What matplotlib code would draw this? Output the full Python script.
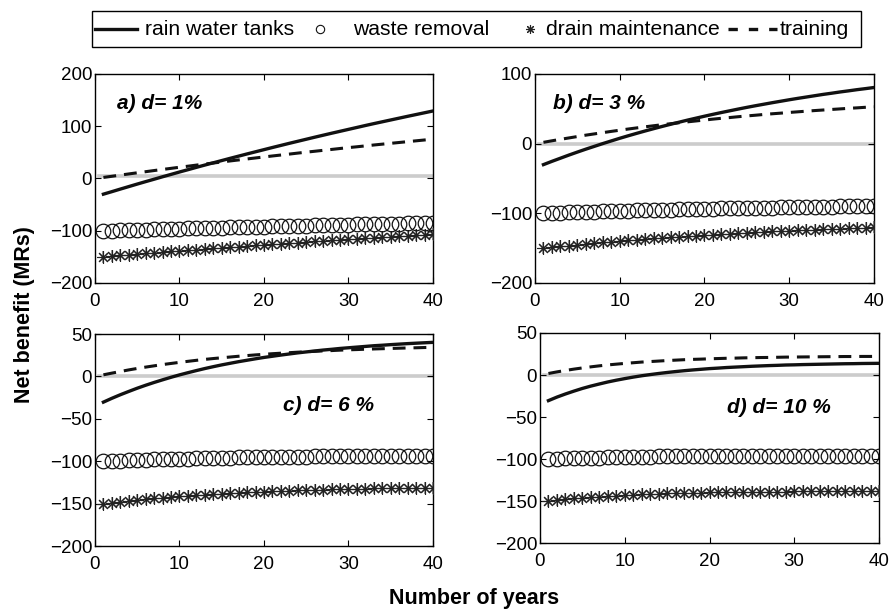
import matplotlib
matplotlib.use("Agg")
import matplotlib.pyplot as plt
from matplotlib.lines import Line2D
from matplotlib.patches import Rectangle

plt.rcParams['font.family'] = ['Liberation Sans', 'DejaVu Sans']

years = list(range(1, 41))

panel_labels = ["a) d= 1%", "b) d= 3 %", "c) d= 6 %", "d) d= 10 %"]

rain_a = [-30.0, -25.2, -20.3, -15.5, -10.7, -6.0, -1.4, 3.3, 7.8, 12.4,
          16.8, 21.3, 25.7, 30.0, 34.3, 38.6, 42.8, 47.0, 51.1, 55.2,
          59.3, 63.3, 67.3, 71.2, 75.1, 79.0, 82.8, 86.6, 90.3, 94.0,
          97.7, 101.4, 105.0, 108.5, 112.0, 115.5, 119.0, 122.4, 125.8, 129.2]
train_a = [2.0, 4.2, 6.5, 8.7, 10.9, 13.0, 15.2, 17.3, 19.4, 21.5,
           23.5, 25.6, 27.6, 29.6, 31.6, 33.6, 35.5, 37.4, 39.3, 41.2,
           43.1, 44.9, 46.7, 48.6, 50.4, 52.1, 53.9, 55.6, 57.4, 59.1,
           60.7, 62.4, 64.1, 65.7, 67.3, 68.9, 70.5, 72.1, 73.7, 75.2]
waste_a = [-100.0, -99.6, -99.1, -98.7, -98.2, -97.8, -97.3, -96.9, -96.5, -96.0,
           -95.6, -95.2, -94.8, -94.4, -94.0, -93.6, -93.2, -92.8, -92.4, -92.0,
           -91.6, -91.3, -90.9, -90.5, -90.2, -89.8, -89.4, -89.1, -88.7, -88.4,
           -88.0, -87.7, -87.3, -87.0, -86.7, -86.3, -86.0, -85.7, -85.4, -85.1]
drain_a = [-150.0, -148.6, -147.3, -146.0, -144.7, -143.5, -142.2, -141.0, -139.7, -138.5,
           -137.3, -136.1, -134.9, -133.7, -132.6, -131.4, -130.3, -129.2, -128.0, -126.9,
           -125.8, -124.8, -123.7, -122.6, -121.6, -120.5, -119.5, -118.5, -117.5, -116.5,
           -115.5, -114.5, -113.5, -112.6, -111.6, -110.7, -109.7, -108.8, -107.9, -107.0]

rain_b = [-30.1, -25.4, -20.9, -16.4, -12.1, -7.9, -3.9, 0.1, 3.9, 7.7,
          11.3, 14.8, 18.2, 21.5, 24.7, 27.8, 30.8, 33.8, 36.6, 39.4,
          42.1, 44.7, 47.2, 49.7, 52.1, 54.4, 56.6, 58.8, 60.9, 63.0,
          65.0, 66.9, 68.8, 70.7, 72.4, 74.2, 75.8, 77.5, 79.0, 80.6]
train_b = [1.9, 4.1, 6.2, 8.2, 10.2, 12.2, 14.0, 15.8, 17.6, 19.3,
           21.0, 22.6, 24.2, 25.7, 27.2, 28.6, 30.0, 31.3, 32.6, 33.9,
           35.2, 36.4, 37.5, 38.7, 39.8, 40.8, 41.9, 42.9, 43.8, 44.8,
           45.7, 46.6, 47.5, 48.3, 49.1, 49.9, 50.7, 51.4, 52.2, 52.9]
waste_b = [-100.0, -99.6, -99.2, -98.8, -98.4, -98.0, -97.6, -97.2, -96.8, -96.5,
           -96.2, -95.8, -95.5, -95.2, -94.9, -94.6, -94.3, -94.0, -93.8, -93.5,
           -93.3, -93.0, -92.8, -92.5, -92.3, -92.1, -91.9, -91.7, -91.5, -91.3,
           -91.1, -90.9, -90.7, -90.6, -90.4, -90.2, -90.1, -89.9, -89.8, -89.6]
drain_b = [-150.0, -148.7, -147.5, -146.3, -145.1, -144.0, -142.9, -141.8, -140.8, -139.8,
           -138.8, -137.9, -136.9, -136.1, -135.2, -134.3, -133.5, -132.7, -131.9, -131.2,
           -130.5, -129.8, -129.1, -128.4, -127.8, -127.2, -126.6, -126.0, -125.4, -124.8,
           -124.3, -123.8, -123.3, -122.8, -122.3, -121.8, -121.4, -120.9, -120.5, -120.1]

rain_c = [-30.3, -25.8, -21.6, -17.7, -13.9, -10.4, -7.1, -4.0, -1.0, 1.8,
          4.4, 6.9, 9.3, 11.5, 13.6, 15.5, 17.4, 19.1, 20.8, 22.4,
          23.8, 25.2, 26.5, 27.8, 28.9, 30.0, 31.1, 32.0, 33.0, 33.8,
          34.6, 35.4, 36.2, 36.8, 37.5, 38.1, 38.7, 39.2, 39.7, 40.2]
train_c = [1.9, 3.9, 5.8, 7.7, 9.4, 11.0, 12.5, 14.0, 15.3, 16.6,
           17.8, 19.0, 20.1, 21.1, 22.0, 22.9, 23.8, 24.6, 25.4, 26.1,
           26.8, 27.4, 28.0, 28.6, 29.1, 29.6, 30.1, 30.5, 31.0, 31.4,
           31.7, 32.1, 32.4, 32.7, 33.0, 33.3, 33.6, 33.8, 34.1, 34.3]
waste_c = [-100.1, -99.6, -99.2, -98.9, -98.5, -98.2, -97.9, -97.6, -97.3, -97.0,
           -96.8, -96.6, -96.3, -96.1, -95.9, -95.7, -95.6, -95.4, -95.3, -95.1,
           -95.0, -94.8, -94.7, -94.6, -94.5, -94.4, -94.3, -94.2, -94.1, -94.0,
           -94.0, -93.9, -93.8, -93.7, -93.7, -93.6, -93.6, -93.5, -93.5, -93.4]
drain_c = [-150.0, -148.8, -147.7, -146.6, -145.6, -144.7, -143.8, -142.9, -142.1, -141.4,
           -140.6, -140.0, -139.3, -138.8, -138.2, -137.7, -137.2, -136.7, -136.2, -135.8,
           -135.4, -135.0, -134.7, -134.4, -134.0, -133.7, -133.5, -133.2, -133.0, -132.7,
           -132.5, -132.3, -132.1, -131.9, -131.7, -131.6, -131.4, -131.3, -131.1, -131.0]

rain_d = [-30.5, -26.3, -22.6, -19.2, -16.0, -13.2, -10.7, -8.3, -6.2, -4.3,
          -2.5, -0.9, 0.5, 1.8, 3.0, 4.1, 5.1, 6.0, 6.8, 7.6,
          8.2, 8.9, 9.4, 9.9, 10.4, 10.8, 11.2, 11.5, 11.9, 12.1,
          12.4, 12.6, 12.8, 13.0, 13.2, 13.4, 13.5, 13.7, 13.8, 13.9]
train_d = [1.8, 3.7, 5.4, 7.0, 8.4, 9.7, 10.9, 12.0, 12.9, 13.8,
           14.6, 15.4, 16.0, 16.6, 17.2, 17.7, 18.2, 18.6, 18.9, 19.3,
           19.6, 19.9, 20.1, 20.4, 20.6, 20.8, 20.9, 21.1, 21.3, 21.4,
           21.5, 21.6, 21.7, 21.8, 21.9, 22.0, 22.0, 22.1, 22.1, 22.2]
waste_d = [-100.1, -99.7, -99.3, -99.0, -98.7, -98.5, -98.2, -98.0, -97.8, -97.6,
           -97.4, -97.3, -97.2, -97.0, -96.9, -96.8, -96.7, -96.6, -96.6, -96.5,
           -96.4, -96.4, -96.3, -96.3, -96.2, -96.2, -96.2, -96.1, -96.1, -96.1,
           -96.0, -96.0, -96.0, -96.0, -96.0, -96.0, -95.9, -95.9, -95.9, -95.9]
drain_d = [-150.1, -149.0, -147.9, -147.0, -146.2, -145.4, -144.7, -144.1, -143.5, -143.0,
           -142.5, -142.1, -141.7, -141.4, -141.0, -140.7, -140.5, -140.2, -140.0, -139.8,
           -139.6, -139.5, -139.3, -139.2, -139.0, -138.9, -138.8, -138.7, -138.7, -138.6,
           -138.5, -138.4, -138.4, -138.3, -138.3, -138.2, -138.2, -138.2, -138.1, -138.1]

baseline = [5, 0, 0, 0]
baseline_x = [0.5, 40]

y_limits = [(-200, 200), (-200, 100), (-200, 50), (-200, 50)]
y_ticks = [[-200, -100, 0, 100, 200], [-200, -100, 0, 100],
           [-200, -150, -100, -50, 0, 50], [-200, -150, -100, -50, 0, 50]]
x_ticks = [0, 10, 20, 30, 40]

series = [(rain_a, train_a, waste_a, drain_a),
          (rain_b, train_b, waste_b, drain_b),
          (rain_c, train_c, waste_c, drain_c),
          (rain_d, train_d, waste_d, drain_d)]

axes_rects = [
    [0.1067, 0.5361, 0.3798, 0.3426],
    [0.6011, 0.5361, 0.3809, 0.3426],
    [0.1067, 0.1049, 0.3798, 0.3475],
    [0.6067, 0.1098, 0.3810, 0.3443],
]
label_pos = [(0.065, 0.86), (0.053, 0.86), (0.556, 0.665), (0.552, 0.643)]

asterisk = (8, 2, 0)
ink = '#111111'
dash_main = (0, (4.2, 2.6))

fig = plt.figure(figsize=(8.9, 6.1), dpi=100)

for i in range(4):
    ax = fig.add_axes(axes_rects[i])
    rain, train, waste, drain = series[i]
    ax.plot(baseline_x, [baseline[i], baseline[i]], color='#cccccc', lw=2.6, zorder=1)
    ax.plot(years, drain, linestyle='none', marker='|', color='#999999',
            markersize=9, markeredgewidth=1.3, zorder=2)
    ax.plot(years, drain, linestyle='none', marker=asterisk, color='#222222',
            markersize=9, markeredgewidth=0.8, zorder=3)
    ax.plot(years, waste, linestyle='none', marker='o', markerfacecolor='none',
            markeredgecolor=ink, markersize=10.5, markeredgewidth=0.9, zorder=3)
    ax.plot(years, train, color=ink, lw=2.2, linestyle=dash_main, zorder=4)
    ax.plot(years, rain, color=ink, lw=2.4, zorder=5)
    ax.set_xlim(0, 40)
    ax.set_ylim(*y_limits[i])
    ax.set_xticks(x_ticks)
    ax.set_yticks(y_ticks[i])
    ax.tick_params(direction='in', top=True, right=True, labelsize=13.5,
                   length=4, width=0.8)
    ax.tick_params(axis='x', pad=7)
    ax.tick_params(axis='y', pad=2)
    for sp in ax.spines.values():
        sp.set_linewidth(1.0)
    ax.text(label_pos[i][0], label_pos[i][1], panel_labels[i], transform=ax.transAxes,
            fontsize=15, fontweight='bold', fontstyle='italic', va='center', ha='left')

# legend drawn in figure pixel space
legend_names = ["rain water tanks", "waste removal", "drain maintenance", "training"]
lax = fig.add_axes([0, 0, 1, 1], zorder=10)
lax.set_xlim(0, 890)
lax.set_ylim(610, 0)
lax.axis('off')
lax.add_patch(Rectangle((92, 11), 769, 35.5, fill=False, edgecolor='black', lw=1.0))
ly = 28.5
lax.add_line(Line2D([95, 137], [ly, ly], color=ink, lw=2.4))
lax.add_line(Line2D([320], [ly], linestyle='none', marker='o', markerfacecolor='none',
                    markeredgecolor=ink, markersize=6, markeredgewidth=0.8))
lax.add_line(Line2D([530], [ly], linestyle='none', marker=asterisk, color='#222222',
                    markersize=6.5, markeredgewidth=0.8))
lax.add_line(Line2D([728, 777], [ly, ly], color=ink, lw=2.4, linestyle=(0, (2.8, 3.3))))
text_x = [145, 353, 546, 780]
for tx, name in zip(text_x, legend_names):
    lax.text(tx, ly + 1, name, fontsize=15.2, ha='left', va='center')

fig.text(0.027, 0.485, "Net benefit (MRs)", rotation=90, fontsize=15.5,
         fontweight='bold', ha='center', va='center')
fig.text(0.5326, 0.019, "Number of years", fontsize=15.5,
         fontweight='bold', ha='center', va='center')

fig.savefig("out.png", dpi=100)
